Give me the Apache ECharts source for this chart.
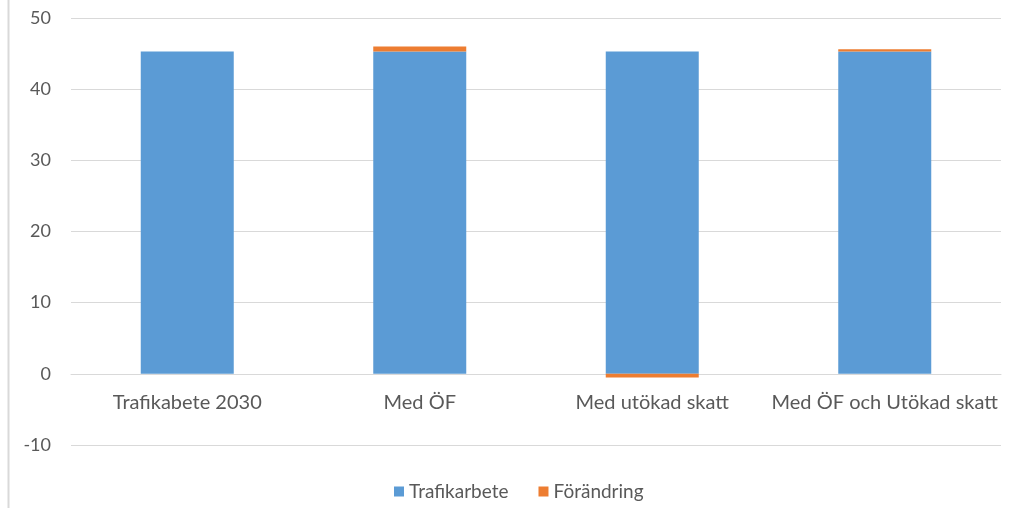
<!DOCTYPE html>
<html>
<head>
<meta charset="utf-8">
<script src="https://cdn.jsdelivr.net/npm/echarts@6/dist/echarts.min.js"></script>
<style>
html,body{margin:0;padding:0;background:#fff;}
#c{width:1015px;height:523px;}
</style>
</head>
<body>
<div id="c"></div>
<script>
const categories = ['Trafikabete 2030', 'Med ÖF', 'Med utökad skatt', 'Med ÖF och Utökad skatt'];
const trafikarbete = [45.3, 45.3, 45.3, 45.3];
const forandring = [0, 0.7, -0.5, 0.3];
const yTicks = { min: -10, max: 50, interval: 10 };

const GRID = { left: 71, right: 14, top: 18, bottom: 78 };
const plotH = 523 - GRID.top - GRID.bottom;
const zeroOffset = plotH * (0 - yTicks.min) / (yTicks.max - yTicks.min);

const chart = echarts.init(document.getElementById('c'));
const FONT = 'Lato';
chart.setOption({
  animation: false,
  grid: GRID,
  graphic: [{
    type: 'line', shape: { x1: 8.5, y1: 0, x2: 8.5, y2: 508 },
    style: { stroke: '#d9d9d9', lineWidth: 2 }
  }],
  legend: {
    data: ['Trafikarbete', 'Förändring'],
    left: 389, top: 477,
    itemWidth: 10, itemHeight: 10, itemGap: 30,
    icon: 'rect',
    textStyle: { fontFamily: FONT, fontSize: 19, color: '#595959' }
  },
  xAxis: {
    type: 'category',
    data: categories,
    offset: -zeroOffset,
    axisLine: { onZero: false, lineStyle: { color: '#d9d9d9' } },
    axisTick: { show: false },
    axisLabel: { fontFamily: FONT, fontSize: 20, color: '#595959', margin: 19, interval: 0 }
  },
  yAxis: {
    type: 'value',
    min: yTicks.min, max: yTicks.max, interval: yTicks.interval,
    axisLine: { show: false },
    axisTick: { show: false },
    splitLine: { lineStyle: { color: '#d9d9d9' } },
    axisLabel: { fontFamily: FONT, fontSize: 18, color: '#595959', margin: 20 }
  },
  series: [
    { name: 'Trafikarbete', type: 'bar', stack: 's', data: trafikarbete, barWidth: '40%',
      itemStyle: { color: '#5B9BD5' } },
    { name: 'Förändring', type: 'bar', stack: 's', data: forandring,
      itemStyle: { color: '#ED7D31' } }
  ]
});
</script>
</body>
</html>
